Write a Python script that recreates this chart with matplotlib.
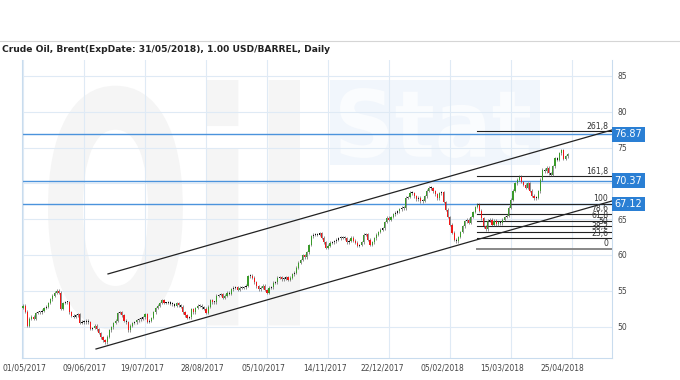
import matplotlib
matplotlib.use('Agg')
import matplotlib.pyplot as plt
import matplotlib.transforms as mtransforms
from matplotlib.lines import Line2D
from matplotlib.textpath import TextPath
from matplotlib.patches import PathPatch, Rectangle
from matplotlib.font_manager import FontProperties

# ---------------- data ----------------
title = "Crude Oil, Brent(ExpDate: 31/05/2018), 1.00 USD/BARREL, Daily"

first_open = 52.6
closes = [
    52.9, 52.1, 50.1, 51.1, 51.4, 51.1, 51.9, 52.0, 52.0, 52.2,
    52.6, 52.8, 53.3, 53.8, 54.3, 54.7, 55.0, 54.7, 52.5, 53.3,
    53.4, 53.4, 52.0, 51.5, 51.4, 51.6, 51.7, 50.5, 50.7, 50.6,
    50.8, 50.6, 49.7, 49.8, 50.1, 49.6, 49.1, 48.5, 48.1, 47.8,
    48.6, 49.5, 49.9, 50.5, 50.8, 51.9, 52.0, 51.6, 50.8, 50.6,
    49.5, 50.1, 50.5, 50.6, 50.9, 51.0, 51.1, 51.3, 51.7, 50.7,
    50.8, 51.2, 52.0, 52.6, 52.9, 53.3, 53.7, 53.3, 53.3, 53.4,
    53.2, 53.1, 52.9, 53.3, 53.0, 52.8, 52.0, 51.6, 51.2, 51.3,
    52.4, 52.0, 52.6, 52.9, 52.9, 52.7, 52.5, 51.9, 52.8, 53.7,
    53.4, 53.4, 54.3, 54.4, 54.5, 54.0, 54.3, 54.7, 54.6, 55.2,
    55.4, 55.5, 55.1, 55.4, 55.4, 55.5, 55.7, 57.0, 57.1, 56.8,
    56.2, 55.6, 55.2, 55.4, 55.7, 55.1, 54.7, 55.4, 55.5, 56.1,
    56.2, 56.8, 56.9, 56.6, 56.7, 56.9, 56.5, 56.8, 57.3, 57.5,
    58.2, 58.9, 59.3, 60.0, 59.7, 60.4, 61.4, 62.6, 62.8, 62.9,
    62.8, 63.0, 62.4, 61.8, 61.0, 61.3, 61.7, 61.8, 61.9, 62.1,
    62.3, 62.5, 62.4, 62.3, 61.8, 62.0, 62.4, 62.0, 61.7, 61.3,
    61.4, 61.8, 62.8, 62.9, 62.1, 61.4, 61.8, 62.3, 62.8, 63.2,
    63.5, 63.7, 64.6, 65.2, 64.9, 65.3, 65.7, 65.9, 66.1, 66.4,
    66.6, 66.5, 68.0, 68.1, 68.7, 68.6, 68.2, 67.8, 68.0, 67.5,
    67.6, 68.2, 69.0, 69.4, 69.3, 68.9, 68.5, 67.9, 68.6, 68.8,
    67.4, 66.3, 65.3, 64.2, 63.1, 62.1, 61.9, 62.5, 63.2, 64.0,
    64.7, 64.9, 64.5, 65.3, 66.0, 66.7, 67.0, 66.2, 65.1, 64.0,
    63.6, 64.8, 64.9, 64.2, 64.8, 64.3, 64.6, 64.4, 64.9, 65.3,
    65.5, 66.6, 67.7, 69.0, 70.0, 70.5, 70.9, 70.2, 69.8, 69.4,
    70.0, 69.0, 68.3, 67.9, 68.0, 68.9, 70.5, 71.9, 71.7, 72.2,
    71.4, 71.2, 72.4, 73.5, 73.3, 74.2, 74.6, 73.4, 73.8, 74.1,
]

date_labels = ["01/05/2017", "09/06/2017", "19/07/2017", "28/08/2017", "05/10/2017",
               "14/11/2017", "22/12/2017", "05/02/2018", "15/03/2018", "25/04/2018"]
date_label_bars = [0.5, 29, 56.6, 85.1, 114.1, 143.6, 170.7, 199.2, 227.7, 256.7]
grid_bars = [0, 29, 58, 87, 116, 145, 174, 203, 232, 261]

y_ticks = [50, 55, 60, 65, 70, 75, 80, 85]
y_tick_labels = ["50", "55", "60", "65", "", "75", "80", "85"]  # 70 is hidden under the 70.37 tag

levels = [76.87, 70.37, 67.12]

# channel lines: (bar, price) endpoints
upper_channel = [(40.4, 57.35), (280.1, 77.46)]
lower_channel = [(34.7, 46.87), (280.1, 67.54)]

# fibonacci
fib_zero, fib_hundred = 60.85, 67.12
fib_ratios = [0, 23.6, 38.2, 50, 61.8, 78.6, 100, 161.8, 261.8]
fib_labels = ["0", "23,6", "38,2", "50", "61,8", "78,6", "100", "161,8", "261,8"]
fib_start_bar = 215.9

# ---------------- figure ----------------
W, H = 680, 380
fig = plt.figure(figsize=(W / 100, H / 100), dpi=100)
fig.patch.set_facecolor('white')
L, R, T, B = 22, 612, 60, 358
ax = fig.add_axes([L / W, 1 - B / H, (R - L) / W, (B - T) / H])
ax.set_xlim(-0.5, 280.1)
ax.set_ylim(45.61, 87.23)


def px_box_transform(path, x0, x1, ytop, ybot):
    """map a path's extents onto a pixel box (x from left, y from top)"""
    ext = path.get_extents()
    sx = (x1 - x0) / ext.width
    sy = (ybot - ytop) / ext.height
    return (mtransforms.Affine2D().translate(-ext.x0, -ext.y0).scale(sx, sy)
            .translate(x0, H - ybot))


# faint watermark
wm_oil = TextPath((0, 0), "Oil", size=10, prop=FontProperties(family='DejaVu Sans', weight='bold'))
ax.add_patch(PathPatch(wm_oil, transform=px_box_transform(wm_oil, 48, 300, 80, 330),
                       fc='#f5f5f5', ec='none', zorder=0.3))
ax.add_patch(Rectangle((330, H - 165), 210, 85, transform=mtransforms.IdentityTransform(),
                       fc='#f1f6fc', ec='none', zorder=0.3))
wm_stat = TextPath((0, 0), "Stat", size=10, prop=FontProperties(family='DejaVu Sans', weight='bold'))
ax.add_patch(PathPatch(wm_stat, transform=px_box_transform(wm_stat, 340, 530, 88, 158),
                       fc='#fafcfe', ec='none', zorder=0.35))

grid_c = '#dfeaf5'
for g in grid_bars:
    ax.axvline(g, color=grid_c, lw=0.8, zorder=0.5)
for yt in y_ticks:
    ax.axhline(yt, color=grid_c, lw=0.8, zorder=0.5)

ax.spines['top'].set_visible(False)
for side in ['left', 'right', 'bottom']:
    ax.spines[side].set_color('#c9dcee')
    ax.spines[side].set_linewidth(0.8)

ax.yaxis.tick_right()
ax.set_yticks(y_ticks)
ax.set_yticklabels(y_tick_labels)
ax.tick_params(axis='y', length=0, pad=4, labelsize=5.5, labelcolor='#444444')
ax.set_xticks(date_label_bars)
ax.set_xticklabels(date_labels)
ax.tick_params(axis='x', length=0, pad=4, labelsize=5.5, labelcolor='#444444')

# blue levels
for lv in levels:
    ax.axhline(lv, color='#4b93dc', lw=1.0, zorder=2)
trans = mtransforms.blended_transform_factory(ax.transAxes, ax.transData)
for lv in levels:
    ax.text(1.004, lv, f"{lv:.2f}", transform=trans, ha='left', va='center',
            fontsize=7, color='white', zorder=6, clip_on=False,
            bbox=dict(boxstyle='square,pad=0.25', fc='#2a7fd4', ec='none'))

# channels
for line in (upper_channel, lower_channel):
    ax.plot([line[0][0], line[1][0]], [line[0][1], line[1][1]], color='#222222', lw=0.9, zorder=3)

# fibonacci
for r, lab in zip(fib_ratios, fib_labels):
    p = fib_zero + r / 100 * (fib_hundred - fib_zero)
    col = '#888888' if r == 0 else '#222222'
    lw = 1.4 if r == 0 else 0.8
    ax.plot([fib_start_bar, 280.1], [p, p], color=col, lw=lw, zorder=3)
    ax.text(278.3, p + 0.1, lab, ha='right', va='bottom', fontsize=5.6, color='#333333', zorder=4)

# candles
opens = [first_open] + closes[:-1]
for i, (o, c) in enumerate(zip(opens, closes)):
    lo, hi = min(o, c), max(o, c)
    if hi - lo < 0.25:
        col = '#111111'
    elif c > o:
        col = '#3a9a2a'
    else:
        col = '#f01818'
    ax.vlines(i, lo - 0.2, hi + 0.2, color='#555555', lw=0.45, zorder=4)
    ax.bar(i, max(hi - lo, 0.14), bottom=lo, width=0.55, color=col, lw=0, zorder=5)

# title and header line
fig.text(2 / W, 1 - 50 / H, title, fontsize=6.6, fontweight='bold', va='center', ha='left', color='#222222')
fig.add_artist(Line2D([0, 1], [1 - 40.5 / H] * 2, color='#d5d5d5', lw=0.8))

fig.savefig('out.png', dpi=100)
